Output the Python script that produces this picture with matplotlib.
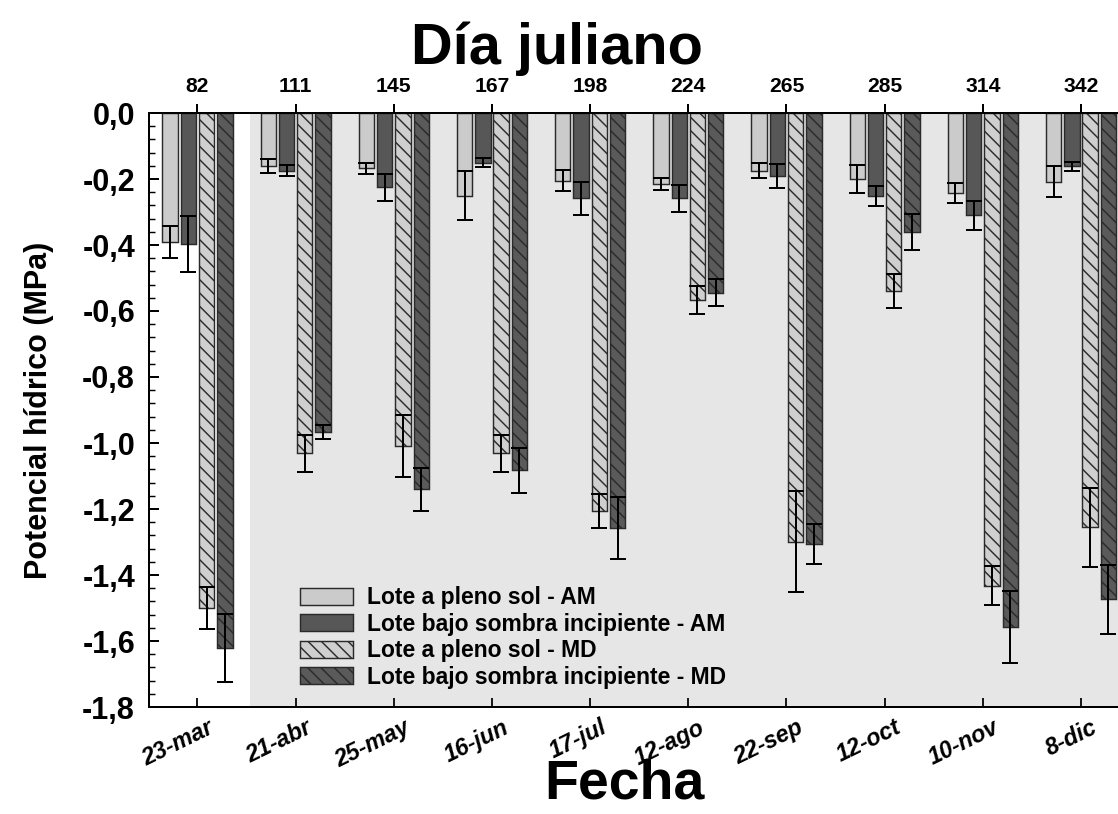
import numpy as np
import matplotlib
matplotlib.use('Agg')
import matplotlib.pyplot as plt
import matplotlib.transforms as mtransforms
from matplotlib.ticker import MultipleLocator, FuncFormatter

# fechas de muestreo y su día juliano
fechas = ['23-mar', '21-abr', '25-may', '16-jun', '17-jul',
          '12-ago', '22-sep', '12-oct', '10-nov', '8-dic']
dia_juliano = [82, 111, 145, 167, 198, 224, 265, 285, 314, 342]

# potencial hídrico medio (MPa) y error estándar
sol_am = [-0.390, -0.160, -0.168, -0.250, -0.205, -0.215, -0.175, -0.200, -0.242, -0.208]
sol_am_err = [0.048, 0.021, 0.018, 0.075, 0.032, 0.017, 0.022, 0.042, 0.030, 0.048]

sombra_am = [-0.397, -0.175, -0.225, -0.150, -0.259, -0.259, -0.191, -0.251, -0.310, -0.161]
sombra_am_err = [0.086, 0.017, 0.041, 0.013, 0.050, 0.040, 0.037, 0.031, 0.044, 0.014]

sol_md = [-1.500, -1.031, -1.008, -1.031, -1.206, -0.567, -1.299, -0.539, -1.432, -1.256]
sol_md_err = [0.065, 0.056, 0.094, 0.056, 0.051, 0.042, 0.154, 0.051, 0.060, 0.121]

sombra_md = [-1.620, -0.966, -1.140, -1.082, -1.257, -0.544, -1.306, -0.360, -1.557, -1.474]
sombra_md_err = [0.103, 0.022, 0.065, 0.068, 0.094, 0.041, 0.062, 0.055, 0.110, 0.105]

plt.rcParams['font.family'] = ['Liberation Sans', 'DejaVu Sans']
plt.rcParams['font.weight'] = 'bold'
plt.rcParams['axes.labelweight'] = 'bold'
plt.rcParams['hatch.linewidth'] = 1.3

fig = plt.figure(figsize=(1118 / 80, 814 / 80), dpi=80)
ax = fig.add_axes([149 / 1118, 1 - 707 / 814, 969 / 1118, 594 / 814])

x = np.arange(len(fechas))
ancho = 0.156
paso = 0.186

series = [
    (sol_am, sol_am_err, 'Lote a pleno sol - AM', '#cbcbcb', None),
    (sombra_am, sombra_am_err, 'Lote bajo sombra incipiente - AM', '#575757', None),
    (sol_md, sol_md_err, 'Lote a pleno sol - MD', '#cfcfcf', '\\\\'),
    (sombra_md, sombra_md_err, 'Lote bajo sombra incipiente - MD', '#5a5a5a', '\\\\'),
]

# fondo gris a partir de la segunda fecha
ax.axvspan(0.534, 10, color='#e6e6e6', lw=0, zorder=0)

for i, (vals, err, etiqueta, color, trama) in enumerate(series):
    pos = x + (i - 1.5) * paso
    ax.bar(pos, vals, ancho, color=color, edgecolor='#2a2a2a', linewidth=1.3,
           hatch=trama, label=etiqueta, zorder=2)
    ax.errorbar(pos, vals, yerr=err, fmt='none', ecolor='black',
                elinewidth=1.8, capsize=7, capthick=1.8, zorder=3)

ax.set_xlim(-0.494, 9.377)
ax.set_ylim(-1.8, 0)

ax.yaxis.set_major_locator(MultipleLocator(0.2))
ax.yaxis.set_minor_locator(MultipleLocator(0.04))
ax.yaxis.set_major_formatter(FuncFormatter(
    lambda v, p: '0,0' if abs(v) < 1e-9 else f'{v:.1f}'.replace('.', ',')))
ax.tick_params(axis='y', which='major', direction='in', length=9, width=1.8,
               labelsize=27.5, pad=12.5)
ax.tick_params(axis='y', which='minor', direction='in', length=5, width=1.3)

ax.set_xticks(x)
ax.set_xticklabels(fechas, rotation=26, ha='right', rotation_mode='anchor',
                   style='italic', fontsize=21)
ax.tick_params(axis='x', direction='in', length=8, width=1.6, pad=8)
desplazo = mtransforms.ScaledTranslation(10 / 80, 0, fig.dpi_scale_trans)
for lbl in ax.get_xticklabels():
    lbl.set_transform(lbl.get_transform() + desplazo)

for lado in ['left', 'top', 'bottom']:
    ax.spines[lado].set_linewidth(1.8)
ax.spines['right'].set_visible(False)

sec = ax.secondary_xaxis('top')
sec.set_xticks(x)
sec.set_xticklabels([str(d) for d in dia_juliano], fontsize=19)
sec.tick_params(axis='x', direction='out', length=8, width=1.8, pad=7.5)
sec.spines['top'].set_linewidth(1.8)

ax.set_ylabel('Potencial hídrico (MPa)', fontsize=27.5)
ax.yaxis.set_label_coords(-0.098, 0.5)
ax.set_xlabel('Fecha', fontsize=50)
ax.xaxis.set_label_coords(0.491, -0.086)
ax.text(0.421, 1.108, 'Día juliano', transform=ax.transAxes,
        ha='center', va='center', fontsize=52)

ax.legend(loc='lower left', bbox_to_anchor=(0.156, 0.031), frameon=False,
          fontsize=20.6, handlelength=2.3, handleheight=0.75, handletextpad=0.6,
          labelspacing=0.15, borderpad=0, borderaxespad=0)

fig.savefig('out.png', dpi=80)
